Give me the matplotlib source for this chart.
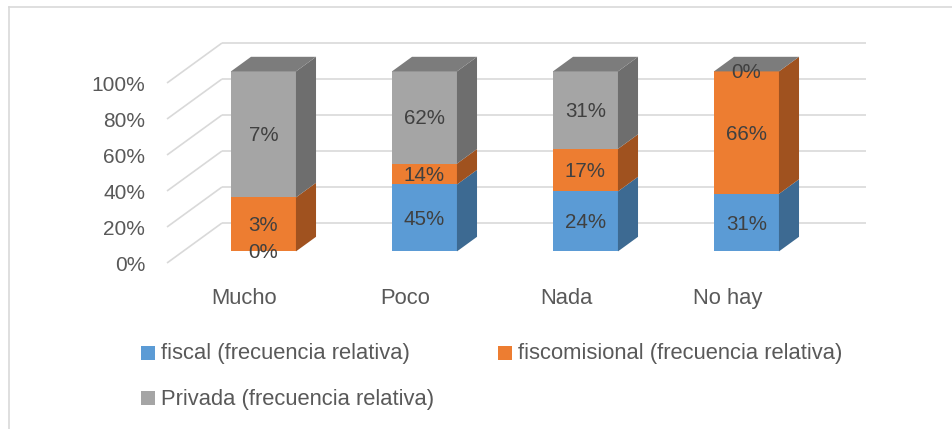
import matplotlib
matplotlib.use("Agg")
import matplotlib.pyplot as plt
from matplotlib.patches import Polygon, Rectangle
from matplotlib.lines import Line2D
import numpy as np

plt.rcParams['font.family'] = ['Liberation Sans', 'DejaVu Sans']

categories = ["Mucho", "Poco", "Nada", "No hay"]
series_names = ["fiscal (frecuencia relativa)",
                "fiscomisional (frecuencia relativa)",
                "Privada (frecuencia relativa)"]
fiscal = [0, 45, 24, 31]
fiscomisional = [3, 14, 17, 66]
privada = [7, 62, 31, 0]
y_ticks = [0, 20, 40, 60, 80, 100]
tick_labels = ["0%", "20%", "40%", "60%", "80%", "100%"]

front_colors = ["#5B9BD5", "#ED7D31", "#A5A5A5"]
side_colors = ["#3D6A92", "#A0521F", "#6E6E6E"]
top_color = "#7C7C7C"

W, H = 952, 429
fig = plt.figure(figsize=(W / 100, H / 100), dpi=100)
ax = fig.add_axes([0, 0, 1, 1])
ax.axis("off")

# layout: pixel mapping of front plane
PX0, CATW = 167, 161      # x pixel of left floor edge, pixels per category
PY0, PCT = 263, 1.8       # y pixel of 0%, pixels per percent
ax.set_xlim((0 - PX0) / CATW - 0.5, (W - PX0) / CATW - 0.5)
ax.set_ylim((PY0 - H) / PCT, PY0 / PCT)

DX = 55 / CATW   # full depth offset in category units
DY = 40 / PCT    # full depth offset in percent units
n = len(categories)

# back wall gridlines with diagonal
for t in y_ticks:
    ax.plot([-0.5, -0.5 + DX], [t, t + DY], color="#D9D9D9", lw=1.2, zorder=1,
            solid_capstyle="butt")
    ax.plot([-0.5 + DX, n - 0.5 + DX], [t + DY, t + DY], color="#D9D9D9", lw=1.2,
            zorder=1, solid_capstyle="butt")

# tick labels
for t, lab in zip(y_ticks, tick_labels):
    ax.text(-0.5 - 22 / CATW, t - 1.2, lab, ha="right", va="center",
            fontsize=15, color="#595959")

# category labels
for i, c in enumerate(categories):
    ax.text(i - 0.02, (PY0 - 304) / PCT, c, ha="center", va="baseline",
            fontsize=15.8, color="#595959")

# bars
t0, t1 = 0.29, 0.655
hw = 65 / CATW / 2
data = np.array([fiscal, fiscomisional, privada], dtype=float)
totals = data.sum(axis=0)
for i in range(n):
    xc = i + t0 * DX
    xl, xr = xc - hw, xc + hw
    ox = (t1 - t0) * DX
    oy = (t1 - t0) * DY
    yb0 = t0 * DY
    base = 0.0
    for s in range(3):
        h = data[s, i] / totals[i] * 100
        y0 = yb0 + base
        y1 = y0 + h
        if h > 0:
            ax.add_patch(Rectangle((xl, y0), xr - xl, h, facecolor=front_colors[s],
                                   edgecolor="none", zorder=3))
            ax.add_patch(Polygon([(xr, y0), (xr + ox, y0 + oy), (xr + ox, y1 + oy), (xr, y1)],
                                 closed=True, facecolor=side_colors[s], edgecolor="none",
                                 zorder=3))
        ax.text(xc, (y0 + y1) / 2 - 0.8, f"{int(data[s, i])}%", ha="center", va="center",
                fontsize=14.8, color="#404040", zorder=5)
        base += h
    ytop = yb0 + base
    ax.add_patch(Polygon([(xl, ytop), (xl + ox, ytop + oy), (xr + ox, ytop + oy), (xr, ytop)],
                         closed=True, facecolor=top_color, edgecolor="none", zorder=3))

# legend (manual, Excel layout)
def fx(px):
    return px / W

def fy(py):
    return 1 - py / H

leg_pos = [(141, 353), (498, 353), (141, 398)]
for (lx, ly), name, col in zip(leg_pos, series_names, front_colors):
    fig.patches.append(Rectangle((fx(lx), fy(ly + 7)), 14 / W, 14 / H, facecolor=col,
                                 edgecolor="none", transform=fig.transFigure, figure=fig))
    fig.text(fx(lx + 20), fy(ly + 1), name, ha="left", va="center", fontsize=15.8,
             color="#595959")

# chart border
fig.add_artist(Line2D([fx(9), fx(9)], [0, fy(7)], color="#D9D9D9", lw=1.2,
                      transform=fig.transFigure))
fig.add_artist(Line2D([fx(9), 1], [fy(7), fy(7)], color="#D9D9D9", lw=1.2,
                      transform=fig.transFigure))

fig.savefig("out.png", dpi=100)
